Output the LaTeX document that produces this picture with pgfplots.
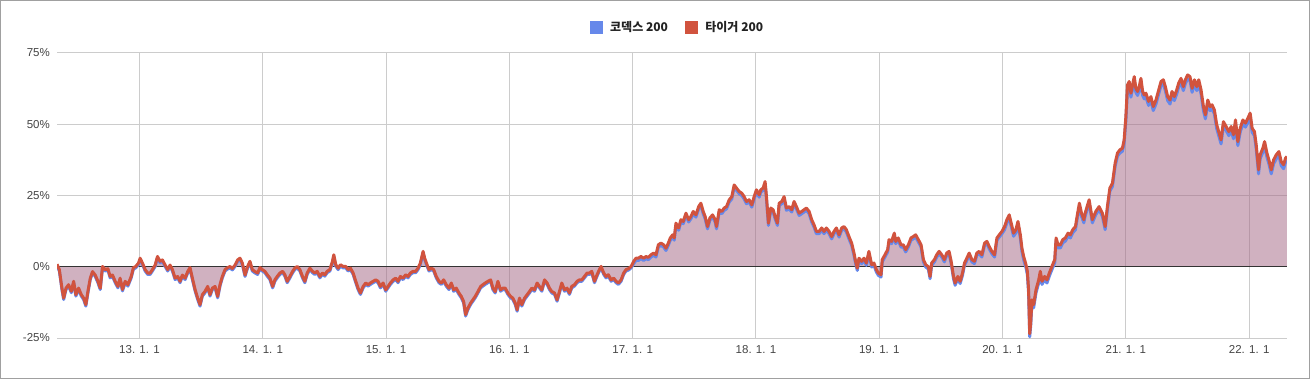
\documentclass[border=0pt]{standalone}
\usepackage{pgfplots}
\pgfplotsset{compat=1.18}
\usepackage{pgfplotstable}
\usepackage{fontspec}
\setmainfont{Liberation Sans}
\newfontfamily\kr{Noto Sans CJK KR}
\definecolor{kblue}{RGB}{102,136,234}
\definecolor{tred}{RGB}{209,83,62}
\definecolor{gridgray}{RGB}{204,204,204}
\definecolor{basegray}{RGB}{51,51,51}
\definecolor{labelgray}{RGB}{68,68,68}
\definecolor{legendgray}{RGB}{34,34,34}
\definecolor{bordergray}{RGB}{160,160,160}

\pgfplotstableread{
x t k
2012.331 0.9 0.4
2012.350 -1.0 -1.5
2012.371 -7.5 -8.0
2012.385 -11.0 -11.5
2012.404 -7.5 -8.0
2012.425 -6.3 -6.8
2012.447 -8.6 -9.1
2012.466 -5.1 -5.6
2012.484 -9.8 -10.3
2012.506 -7.5 -8.0
2012.528 -9.8 -10.3
2012.547 -11.0 -11.5
2012.565 -13.3 -13.8
2012.582 -8.6 -9.1
2012.601 -4.0 -4.5
2012.619 -1.7 -2.2
2012.641 -2.9 -3.4
2012.663 -5.1 -5.6
2012.682 -7.5 -8.0
2012.700 0.1 -0.4
2012.722 -1.0 -1.5
2012.744 -0.7 -1.2
2012.762 -3.4 -3.9
2012.781 -2.9 -3.4
2012.803 -5.1 -5.6
2012.825 -6.9 -7.4
2012.843 -4.0 -4.5
2012.862 -8.0 -8.5
2012.884 -5.1 -5.6
2012.906 -6.3 -6.8
2012.933 -3.4 -3.9
2012.951 -0.3 -0.8
2012.970 0.1 -0.4
2012.992 1.3 0.8
2013.005 3.0 2.5
2013.024 1.3 0.8
2013.046 -1.0 -1.5
2013.067 -2.2 -2.7
2013.086 -2.2 -2.7
2013.105 -1.0 -1.5
2013.127 0.6 0.1
2013.146 3.6 3.1
2013.167 1.9 1.4
2013.186 2.4 1.9
2013.208 0.6 0.1
2013.229 -1.0 -1.5
2013.248 0.6 0.1
2013.267 -1.0 -1.5
2013.289 -4.0 -4.5
2013.310 -3.4 -3.9
2013.329 -5.1 -5.6
2013.348 -2.9 -3.4
2013.370 -4.0 -4.5
2013.391 -1.7 -2.2
2013.410 -0.3 -0.8
2013.429 -4.0 -4.5
2013.451 -8.0 -8.5
2013.472 -11.0 -11.5
2013.491 -13.3 -13.8
2013.510 -9.8 -10.3
2013.532 -8.6 -9.1
2013.553 -6.9 -7.4
2013.572 -9.8 -10.3
2013.591 -7.5 -8.0
2013.613 -6.9 -7.4
2013.634 -10.4 -10.9
2013.653 -6.3 -6.8
2013.672 -3.4 -3.9
2013.694 -1.0 -1.5
2013.715 -0.3 -0.8
2013.734 0.1 -0.4
2013.753 -0.6 -1.1
2013.775 0.6 0.1
2013.796 2.4 1.9
2013.815 3.0 2.5
2013.834 1.3 0.8
2013.856 -2.9 -3.4
2013.877 0.1 -0.4
2013.896 1.9 1.4
2013.915 -1.0 -1.5
2013.937 -1.7 -2.2
2013.958 -2.2 -2.7
2013.977 -0.3 -0.8
2013.996 -1.0 -1.5
2014.017 -1.6 -2.1
2014.036 -2.8 -3.3
2014.058 -4.0 -4.5
2014.080 -6.9 -7.4
2014.098 -4.6 -5.1
2014.117 -3.4 -3.9
2014.139 -2.2 -2.7
2014.161 -1.6 -2.1
2014.179 -2.8 -3.3
2014.198 -5.1 -5.6
2014.220 -3.4 -3.9
2014.242 -1.6 -2.1
2014.260 -0.5 -1.0
2014.279 0.1 -0.4
2014.301 -1.0 -1.5
2014.322 -3.4 -3.9
2014.341 -5.1 -5.6
2014.360 -2.2 -2.7
2014.382 -0.5 -1.0
2014.403 -1.6 -2.1
2014.422 -2.2 -2.7
2014.441 -1.6 -2.1
2014.463 -3.4 -3.9
2014.484 -2.2 -2.7
2014.503 -2.8 -3.3
2014.522 -1.6 -2.1
2014.544 -1.0 -1.5
2014.565 1.9 1.4
2014.576 4.2 3.7
2014.592 0.7 0.2
2014.611 -0.5 -1.0
2014.630 0.7 0.2
2014.652 0.1 -0.4
2014.673 0.1 -0.4
2014.692 -1.0 -1.5
2014.711 -0.5 -1.0
2014.733 -2.2 -2.7
2014.754 -5.1 -5.6
2014.773 -7.5 -8.0
2014.792 -9.2 -9.7
2014.814 -6.9 -7.4
2014.835 -5.7 -6.2
2014.854 -6.3 -6.8
2014.873 -5.7 -6.2
2014.895 -5.1 -5.6
2014.916 -4.6 -5.1
2014.935 -5.1 -5.6
2014.954 -6.9 -7.4
2014.976 -5.7 -6.2
2014.997 -8.1 -8.6
2015.016 -6.9 -7.4
2015.035 -5.7 -6.2
2015.057 -4.6 -5.1
2015.078 -4.0 -4.5
2015.097 -5.1 -5.6
2015.116 -3.4 -3.9
2015.138 -4.0 -4.5
2015.159 -2.8 -3.3
2015.178 -3.4 -3.9
2015.197 -2.2 -2.7
2015.219 -1.6 -2.1
2015.240 -1.6 -2.1
2015.259 -0.5 -1.0
2015.278 1.3 0.8
2015.300 5.4 4.9
2015.313 3.0 2.5
2015.327 1.3 0.8
2015.348 -1.0 -1.5
2015.367 -0.5 -1.0
2015.386 -1.0 -1.5
2015.407 -3.4 -3.9
2015.429 -5.1 -5.6
2015.448 -5.7 -6.2
2015.467 -4.6 -5.1
2015.488 -6.3 -6.8
2015.510 -7.5 -8.0
2015.529 -5.7 -6.2
2015.548 -8.1 -8.6
2015.569 -7.5 -8.0
2015.591 -9.2 -9.7
2015.610 -10.4 -10.9
2015.629 -12.2 -12.7
2015.645 -16.8 -17.3
2015.664 -14.5 -15.0
2015.686 -12.7 -13.2
2015.704 -11.6 -12.1
2015.723 -10.4 -10.9
2015.745 -8.7 -9.2
2015.767 -6.9 -7.4
2015.785 -6.3 -6.8
2015.804 -5.7 -6.2
2015.826 -5.1 -5.6
2015.848 -4.6 -5.1
2015.866 -7.5 -8.0
2015.885 -8.7 -9.2
2015.907 -5.1 -5.6
2015.928 -8.1 -8.6
2015.947 -7.5 -8.0
2015.966 -7.5 -8.0
2015.988 -9.2 -9.7
2016.009 -10.4 -10.9
2016.028 -11.0 -11.5
2016.047 -12.7 -13.2
2016.063 -15.1 -15.6
2016.082 -11.0 -11.5
2016.101 -13.3 -13.8
2016.123 -11.0 -11.5
2016.144 -9.8 -10.3
2016.163 -8.7 -9.2
2016.182 -7.5 -8.0
2016.204 -8.1 -8.6
2016.225 -5.7 -6.2
2016.244 -6.9 -7.4
2016.263 -8.1 -8.6
2016.285 -4.6 -5.1
2016.306 -5.7 -6.2
2016.325 -7.5 -8.0
2016.344 -8.7 -9.2
2016.366 -9.2 -9.7
2016.387 -11.6 -12.1
2016.406 -8.7 -9.2
2016.425 -5.7 -6.2
2016.447 -8.1 -8.6
2016.468 -7.5 -8.0
2016.487 -9.2 -9.7
2016.506 -6.9 -7.4
2016.528 -6.3 -6.8
2016.549 -5.1 -5.6
2016.568 -4.6 -5.1
2016.587 -4.6 -5.1
2016.609 -3.4 -3.9
2016.630 -2.2 -2.7
2016.649 -2.2 -2.7
2016.668 -1.6 -2.1
2016.690 -5.1 -5.6
2016.711 -2.8 -3.3
2016.730 -1.0 -1.5
2016.744 0.1 -0.4
2016.765 -2.2 -2.7
2016.784 -3.4 -3.9
2016.803 -2.8 -3.3
2016.825 -4.6 -5.1
2016.846 -4.0 -4.5
2016.865 -5.1 -5.6
2016.884 -5.7 -6.2
2016.906 -4.6 -5.1
2016.927 -2.2 -2.7
2016.946 -1.0 -1.5
2016.965 -0.7 -1.2
2016.987 0.1 -0.4
2017.008 1.9 1.1
2017.027 3.0 2.2
2017.046 3.0 2.2
2017.067 3.6 2.8
2017.089 3.0 2.2
2017.108 3.6 2.8
2017.127 3.3 2.5
2017.148 4.2 3.4
2017.170 4.8 4.0
2017.189 4.2 3.4
2017.208 7.7 6.9
2017.229 8.3 7.5
2017.251 7.7 6.9
2017.270 6.5 5.7
2017.289 8.3 7.5
2017.305 10.1 9.3
2017.324 11.2 10.4
2017.337 10.1 9.3
2017.351 15.3 14.5
2017.373 13.6 12.8
2017.391 16.5 15.7
2017.410 15.9 15.1
2017.432 18.8 18.0
2017.454 16.5 15.7
2017.472 17.6 16.8
2017.491 19.4 18.6
2017.513 18.2 17.4
2017.535 21.1 20.3
2017.553 22.3 21.5
2017.572 19.4 18.6
2017.588 17.6 16.8
2017.607 14.1 13.3
2017.626 17.1 16.3
2017.648 18.2 17.4
2017.669 16.5 15.7
2017.680 14.1 13.3
2017.702 20.0 19.2
2017.723 19.4 18.6
2017.742 20.6 19.8
2017.761 21.1 20.3
2017.783 23.5 22.7
2017.804 24.6 23.8
2017.823 28.7 27.9
2017.842 27.6 26.8
2017.864 26.4 25.6
2017.885 25.8 25.0
2017.904 24.6 23.8
2017.923 22.9 22.1
2017.945 23.5 22.7
2017.966 21.7 20.9
2017.985 24.6 23.8
2018.004 27.0 26.2
2018.026 25.2 24.4
2018.039 27.0 26.2
2018.058 27.6 26.8
2018.074 29.9 29.1
2018.085 24.6 23.8
2018.101 15.3 14.5
2018.120 20.6 19.8
2018.139 20.0 19.2
2018.155 17.6 16.8
2018.174 15.3 14.5
2018.188 22.3 21.5
2018.209 22.9 22.1
2018.228 24.6 23.8
2018.247 20.6 19.8
2018.269 21.1 20.3
2018.290 20.0 19.2
2018.309 22.9 22.1
2018.328 21.1 20.3
2018.350 18.8 18.0
2018.371 19.4 18.6
2018.390 20.0 19.2
2018.409 20.6 19.8
2018.431 19.4 18.6
2018.452 16.5 15.7
2018.471 14.7 13.9
2018.490 12.4 11.6
2018.512 12.4 11.6
2018.533 13.6 12.8
2018.552 12.4 11.6
2018.571 13.6 12.8
2018.593 12.4 11.6
2018.614 10.6 9.8
2018.633 12.4 11.6
2018.652 13.6 12.8
2018.674 11.2 10.4
2018.695 13.6 12.8
2018.714 14.1 13.3
2018.733 13.0 12.2
2018.754 10.6 9.8
2018.776 8.3 7.5
2018.795 4.8 4.0
2018.808 1.9 1.1
2018.822 -0.5 -1.3
2018.835 3.0 2.2
2018.857 1.9 1.1
2018.876 3.0 2.2
2018.895 1.3 0.5
2018.916 5.4 4.6
2018.938 0.7 -0.1
2018.957 1.3 0.5
2018.976 -1.0 -1.8
2018.992 -2.2 -3.0
2019.014 -2.8 -3.6
2019.024 2.5 1.7
2019.046 4.2 3.4
2019.068 6.0 5.2
2019.079 9.5 8.7
2019.100 8.9 8.1
2019.122 11.8 11.0
2019.133 8.9 8.1
2019.154 10.1 9.3
2019.176 7.7 6.9
2019.195 7.7 6.9
2019.214 6.0 5.2
2019.236 7.7 6.9
2019.257 10.1 9.3
2019.276 10.6 9.8
2019.295 11.2 10.4
2019.317 9.5 8.7
2019.339 7.7 6.9
2019.358 2.5 1.7
2019.377 0.7 -0.1
2019.398 0.0 -0.8
2019.412 -3.4 -4.2
2019.425 1.3 0.5
2019.447 2.5 1.7
2019.466 4.2 3.4
2019.485 5.4 4.6
2019.507 4.2 3.4
2019.528 2.5 1.7
2019.547 4.8 4.0
2019.566 5.4 4.6
2019.583 1.9 1.1
2019.602 -3.4 -4.2
2019.615 -5.7 -6.5
2019.637 -3.4 -4.2
2019.656 -5.1 -5.9
2019.675 -2.2 -3.0
2019.691 1.3 0.5
2019.710 3.0 2.2
2019.729 4.8 4.0
2019.751 2.5 1.7
2019.772 1.9 1.1
2019.791 4.8 4.0
2019.810 5.4 4.6
2019.832 4.2 3.4
2019.854 8.3 7.5
2019.873 8.9 8.1
2019.892 7.1 6.3
2019.913 5.4 4.6
2019.935 4.2 3.4
2019.954 10.1 9.3
2019.973 11.2 10.4
2019.995 12.4 11.6
2020.016 14.1 13.0
2020.035 16.5 15.4
2020.054 18.2 17.1
2020.070 15.3 14.2
2020.089 11.8 10.7
2020.108 13.0 11.9
2020.125 15.9 14.8
2020.144 11.2 10.1
2020.157 6.5 5.4
2020.171 3.6 2.5
2020.190 0.7 -0.4
2020.201 -1.6 -2.7
2020.211 -8.1 -9.2
2020.220 -23.5 -24.6
2020.228 -19.7 -20.8
2020.238 -11.6 -12.7
2020.252 -13.3 -14.4
2020.271 -8.1 -9.2
2020.293 -4.6 -5.7
2020.306 -1.6 -2.7
2020.320 -5.1 -6.2
2020.341 -3.4 -4.5
2020.360 -4.6 -5.7
2020.379 -2.2 -3.3
2020.401 0.2 -0.9
2020.423 2.5 1.4
2020.434 10.1 9.0
2020.450 7.7 6.6
2020.469 7.7 6.6
2020.488 9.5 8.4
2020.509 10.1 9.0
2020.531 11.8 10.7
2020.550 11.2 10.1
2020.569 13.0 11.9
2020.591 14.1 13.0
2020.604 17.6 16.5
2020.623 22.3 21.2
2020.640 18.8 17.7
2020.659 16.5 15.4
2020.669 18.7 17.6
2020.702 23.5 22.4
2020.728 16.5 15.4
2020.756 19.4 18.3
2020.783 21.1 20.0
2020.810 18.7 17.6
2020.832 14.1 13.0
2020.850 21.1 20.0
2020.870 27.6 26.5
2020.891 29.3 28.2
2020.913 36.4 35.3
2020.932 39.9 38.8
2020.951 41.0 39.9
2020.972 41.6 40.5
2020.986 44.5 43.4
2021.000 52.7 51.3
2021.013 63.8 62.4
2021.027 65.0 63.6
2021.041 60.9 59.5
2021.054 63.8 62.4
2021.068 66.7 65.3
2021.081 62.6 61.2
2021.095 61.5 60.1
2021.108 63.2 61.8
2021.122 66.1 64.7
2021.136 61.5 60.1
2021.149 60.3 58.9
2021.163 60.9 59.5
2021.184 58.0 56.6
2021.203 59.7 58.3
2021.222 56.2 54.8
2021.244 58.5 57.1
2021.266 62.0 60.6
2021.285 65.0 63.6
2021.304 65.6 64.2
2021.320 63.2 61.8
2021.339 59.7 58.3
2021.358 58.5 57.1
2021.374 61.5 60.1
2021.393 59.7 58.3
2021.412 62.0 60.6
2021.428 64.4 63.0
2021.447 66.1 64.7
2021.466 63.2 61.8
2021.482 65.6 64.2
2021.501 67.3 65.9
2021.520 66.7 65.3
2021.537 62.6 61.2
2021.556 65.6 64.2
2021.575 63.2 61.8
2021.591 65.6 64.2
2021.610 62.0 60.6
2021.629 56.2 54.8
2021.645 53.3 51.9
2021.664 58.5 57.1
2021.683 56.2 54.8
2021.699 56.8 55.4
2021.718 55.0 53.6
2021.737 49.8 48.4
2021.753 47.4 46.0
2021.772 44.5 43.1
2021.791 50.9 49.5
2021.813 49.2 47.8
2021.835 47.4 46.0
2021.854 49.2 47.8
2021.873 46.3 44.9
2021.889 51.5 50.1
2021.908 43.9 42.5
2021.927 48.6 47.2
2021.949 51.5 50.1
2021.970 50.4 49.0
2021.989 52.1 50.7
2022.008 53.9 52.5
2022.024 48.6 47.2
2022.043 47.4 46.0
2022.057 42.8 41.4
2022.076 34.0 32.6
2022.089 39.3 37.9
2022.111 41.6 40.2
2022.125 43.9 42.5
2022.144 39.9 38.5
2022.160 37.5 36.1
2022.179 34.0 32.6
2022.198 37.5 36.1
2022.220 39.3 37.9
2022.241 40.4 39.0
2022.260 36.9 35.5
2022.279 35.8 34.4
2022.295 38.1 36.7
2022.306 38.7 37.3
}\etfdata

\begin{document}
\begin{tikzpicture}
\draw[color=bordergray, line width=1bp] (0.5bp,0.5bp) rectangle (1309.5bp,378.5bp);
\begin{axis}[
  at={(57bp,41bp)}, anchor=south west,
  scale only axis, width=1230bp, height=285bp,
  xmin=2012.331, xmax=2022.306, ymin=-25, ymax=75,
  axis line style={draw=none},
  major tick length=0pt,
  grid=major,
  major grid style={color=gridgray, line width=1bp},
  xtick={2013,2014,2015,2016,2017,2018,2019,2020,2021,2022},
  xticklabels={13. 1. 1,14. 1. 1,15. 1. 1,16. 1. 1,17. 1. 1,18. 1. 1,19. 1. 1,20. 1. 1,21. 1. 1,22. 1. 1},
  ytick={-25,0,25,50,75},
  yticklabels={-25\%,0\%,25\%,50\%,75\%},
  tick label style={font=\fontsize{11.5bp}{13bp}\selectfont, text=labelgray},
  yticklabel style={inner sep=0pt, xshift=-7bp},
  xticklabel style={inner sep=0pt, yshift=-7bp},
  legend columns=2,
  legend style={at={(0.5037,1.0912)}, anchor=center, draw=none, fill=none,
    inner sep=0pt, nodes={inner sep=0pt, text=legendgray},
    font=\kr\bfseries\fontsize{12bp}{14bp}\selectfont,
    /tikz/every even column/.append style={column sep=17bp}},
]
\addplot[draw=none, fill=kblue, fill opacity=0.3, forget plot] table[x=x, y=k]{\etfdata} \closedcycle;
\addplot[draw=none, fill=tred, fill opacity=0.3, forget plot] table[x=x, y=t]{\etfdata} \closedcycle;
\draw[color=basegray, line width=1bp] (axis cs:2012.331,0) -- (axis cs:2022.306,0);
\addplot[color=kblue, line width=3bp, line join=round, forget plot] table[x=x, y=k]{\etfdata};
\addplot[color=tred, line width=3bp, line join=round, forget plot] table[x=x, y=t]{\etfdata};
\addlegendimage{legend image code/.code={\fill[kblue] (0bp,-6bp) rectangle (12bp,6bp); \path (20bp,0bp);}}
\addlegendentry{코덱스 200}
\addlegendimage{legend image code/.code={\fill[tred] (0bp,-6bp) rectangle (12bp,6bp); \path (20bp,0bp);}}
\addlegendentry{타이거 200}
\end{axis}
\end{tikzpicture}
\end{document}
